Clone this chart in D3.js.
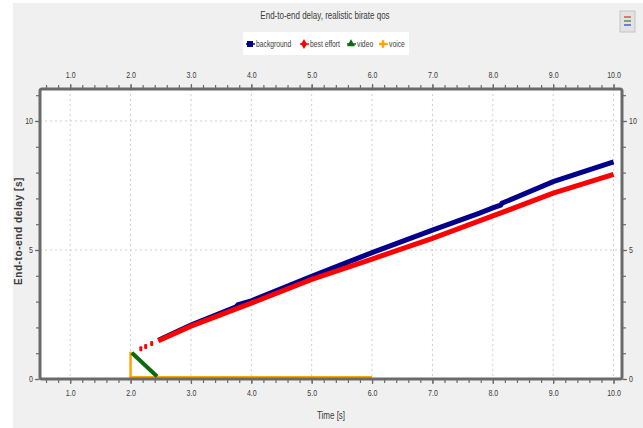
<!DOCTYPE html>
<html>
<head>
<meta charset="utf-8">
<script src="https://cdn.jsdelivr.net/npm/d3@7"></script>
<style>
  html, body { margin: 0; padding: 0; background: #ffffff; }
  svg { display: block; }
  text { font-family: "Liberation Sans", Arial, sans-serif; }
</style>
</head>
<body>
<div id="chart"></div>
<script>
// ---- data ----
var TITLE = "End-to-end delay, realistic birate qos";
var SERIES = ["background", "best effort", "video", "voice"];
var X_TICKS = [1, 2, 3, 4, 5, 6, 7, 8, 9, 10];
var Y_TICKS = [0, 5, 10];

// [time s, delay s]
var background = [[2.46, 1.5], [3.0, 2.09], [3.75, 2.8], [3.78, 2.88], [4.0, 3.03], [5.0, 3.98],
  [6.0, 4.9], [7.0, 5.77], [7.78, 6.43], [8.0, 6.63], [8.13, 6.74], [8.15, 6.81],
  [9.0, 7.65], [10.0, 8.42]];
var bestEffort = [[2.46, 1.48], [3.0, 2.05], [4.0, 2.94], [5.0, 3.86], [6.0, 4.65],
  [7.0, 5.45], [8.0, 6.32], [9.0, 7.2], [10.0, 7.93]];
var bestEffortSparse = [[2.17, 1.17], [2.25, 1.26], [2.35, 1.38]];
var video = [[2.02, 1.02], [2.44, 0.1]];
var voice = [[2.0, 1.06], [2.0, 0.07], [6.0, 0.07]];

var COLORS = { "background": "#00008b", "best effort": "#ff0000", "video": "#0b6a0b", "voice": "#ffa500" };

(function () {
  "use strict";
  var W = 643, H = 428;
  var L = 40, R = 622, T = 89, B = 379;
  var GRID = "#cfcfcf", AXIS = "#6a6a6a", TXT = "#3a3a3a";

  // the source uses a condensed face; squeeze the installed sans to match
  function squeeze(k) {
    return function (sel) {
      sel.each(function () {
        var w = this.getComputedTextLength();
        d3.select(this).attr("textLength", w * k).attr("lengthAdjust", "spacingAndGlyphs");
      });
    };
  }

  var svg = d3.select("#chart").append("svg").attr("width", W).attr("height", H);
  svg.append("rect").attr("x", 13).attr("y", 3).attr("width", W - 13).attr("height", H - 3).attr("fill", "#f0f0f0");

  var x = d3.scaleLinear().domain([0.5, 10.14]).range([L, R]);
  var y = d3.scaleLinear().domain([0, 11.24]).range([B, T]);

  // plot area
  svg.append("rect").attr("x", L).attr("y", T).attr("width", R - L).attr("height", B - T).attr("fill", "#ffffff");

  // grid
  var g = svg.append("g");
  g.selectAll(".vg").data(X_TICKS).enter().append("line")
    .attr("x1", function (d) { return x(d); }).attr("x2", function (d) { return x(d); })
    .attr("y1", T).attr("y2", B).attr("stroke", GRID).attr("stroke-dasharray", "2,3");
  g.selectAll(".hg").data(Y_TICKS.filter(function (d) { return d > 0; })).enter().append("line")
    .attr("x1", L).attr("x2", R).attr("y1", function (d) { return y(d); }).attr("y2", function (d) { return y(d); })
    .attr("stroke", GRID).attr("stroke-dasharray", "2,3");

  // axes: minor + major ticks on all four sides
  var xMinor = d3.range(0.6, 10.14, 0.2), yMinor = d3.range(0, 11.01, 1);
  function styleAxis(sel) {
    sel.select(".domain").remove();
    sel.selectAll(".tick line").attr("stroke", AXIS).attr("stroke-width", 1.2);
    sel.selectAll(".tick text").attr("fill", TXT).style("font-size", "9px").call(squeeze(0.78));
  }
  var fmtX = d3.format(".1f");
  [[d3.axisBottom, "translate(0," + (B + 1) + ")"], [d3.axisTop, "translate(0," + (T - 1) + ")"]].forEach(function (a) {
    svg.append("g").attr("transform", a[1]).call(a[0](x).tickValues(xMinor).tickSize(3).tickFormat("")).call(styleAxis);
    svg.append("g").attr("transform", a[1]).call(a[0](x).tickValues(X_TICKS).tickSize(4).tickPadding(6).tickFormat(fmtX)).call(styleAxis);
  });
  [[d3.axisLeft, "translate(" + (L - 1) + ",0)"], [d3.axisRight, "translate(" + (R + 1) + ",0)"]].forEach(function (a) {
    svg.append("g").attr("transform", a[1]).call(a[0](y).tickValues(yMinor).tickSize(3).tickFormat("")).call(styleAxis);
    svg.append("g").attr("transform", a[1]).call(a[0](y).tickValues(Y_TICKS).tickSize(4).tickPadding(2).tickFormat(d3.format("d"))).call(styleAxis);
  });

  // data
  var line = d3.line().x(function (d) { return x(d[0]); }).y(function (d) { return y(d[1]); });
  var data = svg.append("g");
  data.append("path").attr("d", line(voice)).attr("fill", "none").attr("stroke", COLORS["voice"]).attr("stroke-width", 2.5);
  data.append("path").attr("d", line(video)).attr("fill", "none").attr("stroke", COLORS["video"]).attr("stroke-width", 4);
  data.append("path").attr("d", line(background)).attr("fill", "none").attr("stroke", COLORS["background"]).attr("stroke-width", 5);
  data.append("path").attr("d", line(bestEffort)).attr("fill", "none").attr("stroke", COLORS["best effort"]).attr("stroke-width", 5);
  data.selectAll(".sp").data(bestEffortSparse).enter().append("rect")
    .attr("x", function (d) { return x(d[0]) - 1.5; }).attr("y", function (d) { return y(d[1]) - 2.5; })
    .attr("width", 3).attr("height", 5).attr("rx", 1).attr("fill", COLORS["best effort"]);

  // frame
  svg.append("rect").attr("x", L).attr("y", T).attr("width", R - L).attr("height", B - T).attr("rx", 2)
    .attr("fill", "none").attr("stroke", AXIS).attr("stroke-width", 3);

  // labels
  svg.append("text").attr("x", 325).attr("y", 19).attr("text-anchor", "middle").attr("fill", TXT)
    .style("font-size", "10px").text(TITLE).call(squeeze(0.8));
  svg.append("text").attr("x", 331).attr("y", 419).attr("text-anchor", "middle").attr("fill", TXT)
    .style("font-size", "10px").text("Time [s]").call(squeeze(0.8));
  svg.append("text").attr("transform", "translate(22," + ((T + B) / 2 - 3) + ") rotate(-90)")
    .attr("text-anchor", "middle").attr("fill", TXT).style("font-size", "10px").style("font-weight", "bold")
    .style("letter-spacing", "0.6px").text("End-to-end delay [s]");

  // legend
  var lg = svg.append("g");
  lg.append("rect").attr("x", 243).attr("y", 32).attr("width", 166).attr("height", 23).attr("fill", "#ffffff");
  var pos = [246, 300, 347, 379];
  SERIES.forEach(function (s, i) {
    var cx = pos[i] + 4, cy = 44, c = COLORS[s];
    lg.append("line").attr("x1", pos[i]).attr("x2", pos[i] + 9).attr("y1", cy).attr("y2", cy).attr("stroke", c).attr("stroke-width", 1.5);
    if (i === 0) lg.append("rect").attr("x", cx - 3).attr("y", cy - 3).attr("width", 6).attr("height", 6).attr("fill", c);
    if (i === 1) lg.append("path").attr("d", d3.symbol(d3.symbolDiamond, 30)()).attr("transform", "translate(" + cx + "," + cy + ")").attr("fill", c);
    if (i === 2) lg.append("path").attr("d", d3.symbol(d3.symbolTriangle, 28)()).attr("transform", "translate(" + cx + "," + cy + ")").attr("fill", c);
    if (i === 3) lg.append("path").attr("d", d3.symbol(d3.symbolCross, 30)()).attr("transform", "translate(" + cx + "," + cy + ")").attr("fill", c);
    lg.append("text").attr("x", pos[i] + 10).attr("y", cy + 3).attr("fill", TXT).style("font-size", "9px").text(s).call(squeeze(0.75));
  });

  // small toolbar button at top right
  var btn = svg.append("g").attr("transform", "translate(620,11)");
  btn.append("rect").attr("width", 15).attr("height", 21).attr("fill", "#e2e2e2").attr("stroke", "#c4c4c4");
  [["#e05050", 6], ["#40a040", 10], ["#4060d0", 14]].forEach(function (b) {
    btn.append("line").attr("x1", 4).attr("x2", 11).attr("y1", b[1]).attr("y2", b[1]).attr("stroke", b[0]).attr("stroke-width", 1.5);
  });
})();
</script>
</body>
</html>
